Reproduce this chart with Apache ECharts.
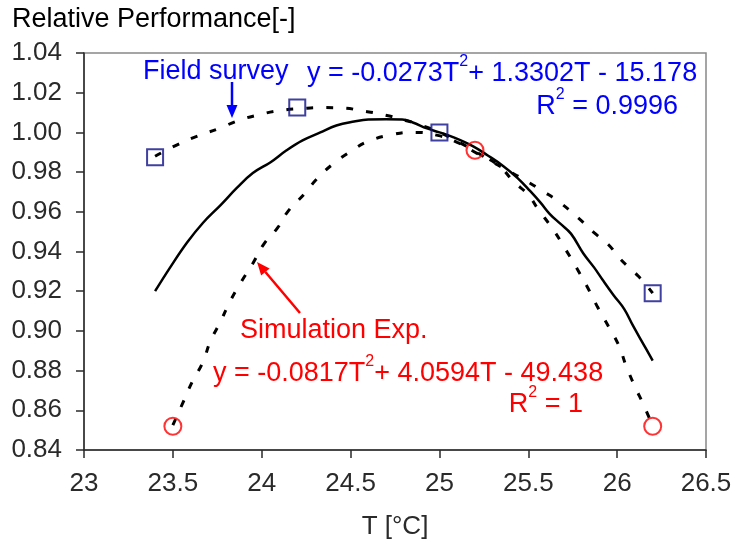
<!DOCTYPE html>
<html>
<head>
<meta charset="utf-8">
<script src="https://cdn.jsdelivr.net/npm/echarts@6/dist/echarts.min.js"></script>
<style>
  html, body { margin: 0; padding: 0; background: #fff; }
  #chart { width: 737px; height: 541px; }
</style>
</head>
<body>
<div id="chart"></div>
<script>
// Axis settings
const xTicks = { min: 23, max: 26.5, step: 0.5 };
const yTicks = { min: 0.84, max: 1.04, step: 0.02 };

// Field survey measurements [T, relative performance]
const fieldPoints = [[23.4, 0.9875], [24.2, 1.0125], [25.0, 1.000], [26.2, 0.919]];

// Simulation experiment measurements [T, relative performance]
const simPoints = [[23.5, 0.852], [25.2, 0.991], [26.2, 0.852]];

// Quadratic trend through the field survey points (dotted)
const fieldTrend = [
  [23.4, 0.988], [23.53, 0.994], [23.65, 0.9985], [23.76, 1.002], [23.87, 1.006],
  [23.99, 1.009], [24.1, 1.011], [24.22, 1.012], [24.34, 1.0125], [24.45, 1.0123],
  [24.57, 1.0108], [24.68, 1.009], [24.79, 1.0065], [24.9, 1.0035], [25.0, 1.000],
  [25.1, 0.9955], [25.2, 0.9905], [25.3, 0.985], [25.38, 0.981], [25.47, 0.9765],
  [25.59, 0.970], [25.68, 0.9645], [25.78, 0.957], [25.87, 0.9495], [25.95, 0.9435],
  [26.02, 0.936], [26.12, 0.9275], [26.2, 0.919]
];

// Quadratic trend through the simulation points (dotted)
const simTrend = [
  [23.5, 0.8525], [23.56, 0.8645], [23.61, 0.8745], [23.67, 0.8845], [23.71, 0.8945],
  [23.77, 0.905], [23.82, 0.9145], [23.88, 0.924], [23.95, 0.934], [24.01, 0.9435],
  [24.09, 0.952], [24.15, 0.9605], [24.24, 0.969], [24.31, 0.9765], [24.4, 0.984],
  [24.51, 0.991], [24.6, 0.9955], [24.74, 0.999], [24.85, 1.000], [24.99, 0.9985],
  [25.1, 0.9950], [25.2, 0.990], [25.33, 0.9835], [25.42, 0.975], [25.5, 0.9685],
  [25.55, 0.962], [25.64, 0.951], [25.7, 0.9425], [25.77, 0.932], [25.83, 0.9225],
  [25.89, 0.912], [25.95, 0.9025], [26.01, 0.8925], [26.05, 0.8825], [26.1, 0.872],
  [26.15, 0.8625], [26.2, 0.852]
];

// Model curve (solid)
const modelCurve = [
  [23.4, 0.920], [23.485, 0.932], [23.58, 0.9445], [23.67, 0.9545], [23.77, 0.9635],
  [23.86, 0.972], [23.95, 0.9795], [24.05, 0.985], [24.14, 0.991], [24.23, 0.996],
  [24.33, 1.000], [24.42, 1.0035], [24.52, 1.0055], [24.6, 1.0065], [24.7, 1.0066],
  [24.79, 1.0065], [24.85, 1.005], [24.93, 1.002], [25.0, 1.000], [25.08, 0.9975],
  [25.19, 0.993], [25.27, 0.9885], [25.36, 0.983], [25.44, 0.977], [25.51, 0.9705],
  [25.57, 0.9645], [25.62, 0.959], [25.68, 0.954], [25.74, 0.949], [25.81, 0.939],
  [25.87, 0.932], [25.92, 0.9255], [25.98, 0.918], [26.04, 0.911], [26.09, 0.9025],
  [26.15, 0.893], [26.2, 0.885]
];

const FONT = 'Liberation Sans, Arial, sans-serif';
const BLUE = '#0000ff';
const RED = '#ff0000';
const AXIS = '#2a2a2a';

const chart = echarts.init(document.getElementById('chart'), null, { renderer: 'canvas' });

function supText(parts, color, size) {
  return {
    text: parts.map(p => p.sup ? '{s|' + p.t + '}' : '{n|' + p.t + '}').join(''),
    rich: {
      n: { fontFamily: FONT, fontSize: size, color: color, lineHeight: 40 },
      s: { fontFamily: FONT, fontSize: 16, color: color, lineHeight: 14, verticalAlign: 'top' }
    }
  };
}

function label(x, y, parts, color, align) {
  const t = supText(parts, color, 27);
  return {
    type: 'text', x: x, y: y, z: 50,
    style: Object.assign(t, { textAlign: align || 'left', textVerticalAlign: 'middle', fill: color })
  };
}

function arrow(x1, y1, x2, y2, color) {
  const ang = Math.atan2(y2 - y1, x2 - x1);
  const len = 13, half = 5.5;
  const bx = x2 - len * Math.cos(ang), by = y2 - len * Math.sin(ang);
  const px = -Math.sin(ang) * half, py = Math.cos(ang) * half;
  return [
    { type: 'line', z: 50, shape: { x1: x1, y1: y1, x2: bx, y2: by }, style: { stroke: color, lineWidth: 2.5 } },
    { type: 'polygon', z: 50, shape: { points: [[x2, y2], [bx + px, by + py], [bx - px, by - py]] }, style: { fill: color } }
  ];
}

const option = {
  backgroundColor: '#fff',
  animation: false,
  textStyle: { fontFamily: FONT },
  grid: {
    left: 84, right: 31, top: 53, bottom: 91,
    outerBoundsMode: 'none', containLabel: false,
    show: true, borderColor: '#888', borderWidth: 1.5
  },
  xAxis: {
    type: 'value', min: xTicks.min, max: xTicks.max, interval: xTicks.step,
    name: 'T [°C]', nameLocation: 'middle', nameGap: 64,
    nameTextStyle: { fontFamily: FONT, fontSize: 26, color: AXIS },
    axisLine: { lineStyle: { color: AXIS, width: 1.5 } },
    axisTick: { inside: false, length: 8, lineStyle: { color: AXIS, width: 1.5 } },
    axisLabel: { margin: 21, fontFamily: FONT, fontSize: 26, color: AXIS },
    splitLine: { show: false }
  },
  yAxis: {
    type: 'value', min: yTicks.min, max: yTicks.max, interval: yTicks.step,
    axisLine: { show: true, lineStyle: { color: AXIS, width: 1.5 } },
    axisTick: { show: true, inside: false, length: 8, lineStyle: { color: AXIS, width: 1.5 } },
    axisLabel: { margin: 22, fontFamily: FONT, fontSize: 26, color: AXIS, formatter: v => v.toFixed(2) },
    splitLine: { show: false }
  },
  series: [
    {
      type: 'line', data: modelCurve, showSymbol: false, smooth: 0.4,
      lineStyle: { color: '#000', width: 2.5 }, z: 3
    },
    {
      type: 'line', data: fieldTrend, showSymbol: false, smooth: true,
      lineStyle: { color: '#000', width: 3, type: [7, 13] }, z: 3
    },
    {
      type: 'line', data: simTrend, showSymbol: false, smooth: true,
      lineStyle: { color: '#000', width: 3, type: [7, 13] }, z: 3
    },
    {
      type: 'scatter', data: fieldPoints, symbol: 'rect', symbolSize: 16,
      itemStyle: { color: 'rgba(0,0,0,0)', borderColor: '#10108a', borderWidth: 2 }, z: 5
    },
    {
      type: 'scatter', data: simPoints, symbol: 'circle', symbolSize: 17,
      itemStyle: { color: 'rgba(0,0,0,0)', borderColor: RED, borderWidth: 2 }, z: 5
    }
  ],
  graphic: [
    { type: 'text', x: 12, y: 20, style: { text: 'Relative Performance[-]', fontFamily: FONT, fontSize: 27, fill: '#000', textVerticalAlign: 'middle' } },
    label(143, 72, [{ t: 'Field survey' }], BLUE),
    label(307, 74, [{ t: 'y = -0.0273T' }, { t: '2', sup: true }, { t: '+ 1.3302T - 15.178' }], BLUE),
    label(678, 107, [{ t: 'R' }, { t: '2', sup: true }, { t: ' = 0.9996' }], BLUE, 'right'),
    label(240, 331, [{ t: 'Simulation Exp.' }], RED),
    label(213, 374, [{ t: 'y = -0.0817T' }, { t: '2', sup: true }, { t: '+ 4.0594T - 49.438' }], RED),
    label(583, 405, [{ t: 'R' }, { t: '2', sup: true }, { t: ' = 1' }], RED, 'right')
  ].concat(arrow(232, 82, 232, 118, BLUE)).concat(arrow(300, 313, 257, 262, RED))
};

chart.setOption(option);
</script>
</body>
</html>
